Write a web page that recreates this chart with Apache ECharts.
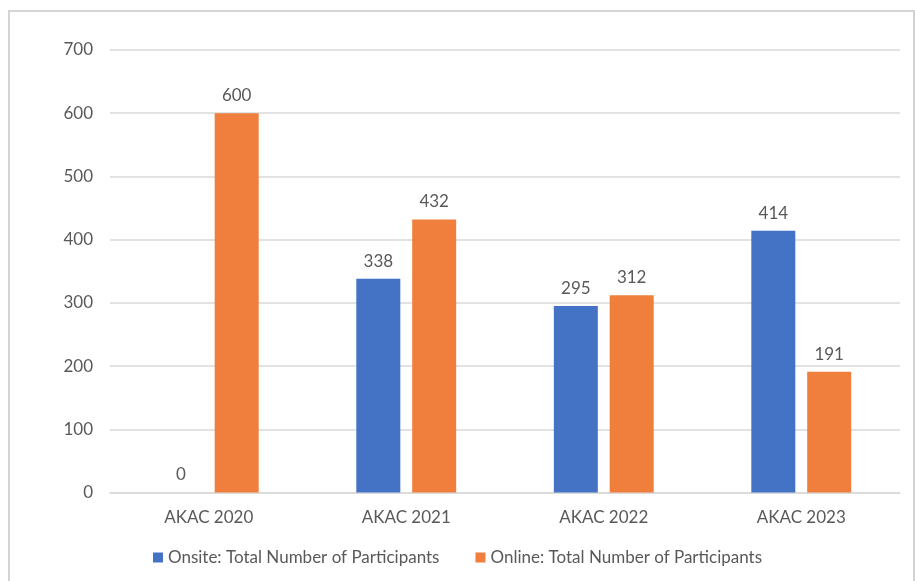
<!DOCTYPE html>
<html><head><meta charset="utf-8">
<script src="https://cdn.jsdelivr.net/npm/echarts@6/dist/echarts.min.js"></script>
<style>html,body{margin:0;padding:0;background:#fff}#c{width:915px;height:581px}</style>
</head><body><div id="c"></div>
<script>
const categories = ['AKAC 2020', 'AKAC 2021', 'AKAC 2022', 'AKAC 2023'];
const onsite = [0, 338, 295, 414];
const online = [600, 432, 312, 191];
const seriesNames = ['Onsite: Total Number of Participants', 'Online: Total Number of Participants'];
const yTicks = {min: 0, max: 700, interval: 100};

const FONT = 'Lato';
const TXT = '#595959';
const FS = 17;
const chart = echarts.init(document.getElementById('c'), null, {renderer: 'canvas'});
const lbl = {show: true, position: 'top', distance: 9, color: TXT, fontFamily: FONT, fontSize: FS};
chart.setOption({
  animation: false,
  textStyle: {fontFamily: FONT},
  graphic: [{type: 'rect', shape: {x: 9, y: 11, width: 905, height: 580}, style: {fill: 'none', stroke: '#d4d4d4', lineWidth: 2}, silent: true}],
  grid: {left: 110, right: 15, top: 50, bottom: 88.5, containLabel: false},
  legend: {
    bottom: 10, left: 'center', itemWidth: 10, itemHeight: 10, itemGap: 36,
    icon: 'rect', textStyle: {color: TXT, fontFamily: FONT, fontSize: FS},
    data: seriesNames
  },
  xAxis: {
    type: 'category', data: categories,
    axisLine: {lineStyle: {color: '#d9d9d9', width: 1.5}},
    axisTick: {show: false},
    axisLabel: {color: TXT, fontFamily: FONT, fontSize: FS, margin: 17}
  },
  yAxis: {
    type: 'value', min: yTicks.min, max: yTicks.max, interval: yTicks.interval,
    axisLine: {show: false}, axisTick: {show: false},
    splitLine: {lineStyle: {color: '#d9d9d9', width: 1.5}},
    axisLabel: {color: TXT, fontFamily: FONT, fontSize: FS, margin: 17}
  },
  series: [
    {name: seriesNames[0], type: 'bar', data: onsite, barWidth: 44, barGap: '27%', itemStyle: {color: '#4472C4'}, label: lbl},
    {name: seriesNames[1], type: 'bar', data: online, barWidth: 44, itemStyle: {color: '#F07E3C'}, label: lbl}
  ]
});
</script></body></html>
